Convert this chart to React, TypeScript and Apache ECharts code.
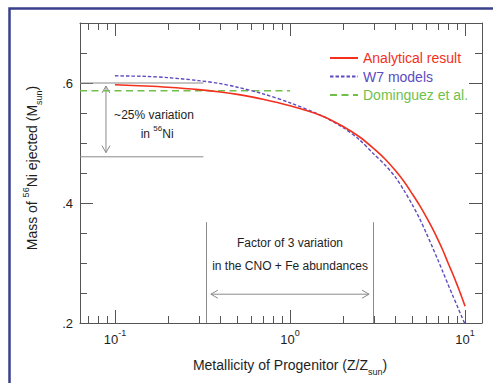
import React, { useEffect, useRef } from 'react';
import * as echarts from 'echarts';

const FONT = '"Liberation Sans", Arial, Helvetica, sans-serif';

// Axis extents
const xMin = 0.0631;
const xMax = 12.5;
const yMin = 0.2;
const yMax = 0.7;

// Analytical result (red, solid)
const analyticalZ = [0.1, 0.15, 0.2, 0.3, 0.4, 0.5, 0.7, 1.0, 1.5, 2.0, 2.5, 3.0, 3.5, 4.0, 4.5, 5.0, 5.5, 6.0, 6.5, 7.0, 7.5, 8.0, 8.5, 9.0, 9.5, 10.0];
const analyticalM = [0.597, 0.595, 0.593, 0.589, 0.585, 0.581, 0.573, 0.562, 0.546, 0.528, 0.510, 0.491, 0.473, 0.454, 0.435, 0.415, 0.396, 0.377, 0.358, 0.339, 0.320, 0.300, 0.282, 0.264, 0.246, 0.228];

// W7 models (purple, short dashes)
const w7Z = [0.1, 0.15, 0.2, 0.3, 0.4, 0.5, 0.7, 1.0, 1.5, 2.0, 2.5, 3.0, 3.5, 4.0, 4.5, 5.0, 5.5, 6.0, 6.5, 7.0, 7.5, 8.0, 8.5, 9.0, 9.5, 10.0];
const w7M = [0.612, 0.611, 0.609, 0.604, 0.599, 0.593, 0.582, 0.567, 0.546, 0.526, 0.505, 0.482, 0.463, 0.443, 0.420, 0.397, 0.374, 0.350, 0.327, 0.305, 0.284, 0.264, 0.246, 0.229, 0.213, 0.198];

// Dominguez et al. (green, long dashes)
const domZ = [0.0631, 1.0];
const domM = [0.587, 0.587];

// Tick values
const xMinorTicks = [0.07, 0.08, 0.09, 0.2, 0.3, 0.4, 0.5, 0.6, 0.7, 0.8, 0.9, 2, 3, 4, 5, 6, 7, 8, 9];
const xMajorTicks = [0.1, 1, 10];
const yLabelValues = [0.2, 0.4, 0.6];

// Reference lines [z0, m0, z1, m1]
const refLines = [
  [0.0631, 0.6, 0.32, 0.6],
  [0.0631, 0.477, 0.32, 0.477],
  [1 / 3, 0.2, 1 / 3, 0.368],
  [3, 0.2, 3, 0.368],
];

// Double arrows [z0, m0, z1, m1]
const arrows = [
  [0.0888, 0.595, 0.0888, 0.484],
  [0.353, 0.248, 2.83, 0.248],
];

// Annotation texts
const notes = [
  { z: 0.167, m: 0.55, text: '{a|~25% variation}' },
  { z: 0.174, m: 0.518, text: '{a|in }{sup|56}{a|Ni}' },
  { z: 1.0, m: 0.337, text: '{a|Factor of 3 variation}' },
  { z: 1.0, m: 0.298, text: '{a|in the CNO + Fe abundances}' },
];

const RED = '#f3301e';
const PURPLE = '#5b4cbf';
const GREEN = '#70bf4b';
const AXIS = '#555';
const GRAY = '#8a8a8a';
const TEXT = '#1e1e1e';

const zip = (a: number[], b: number[]) => a.map((v, i) => [v, b[i]]);

function buildOption() {
  const axisLineStyle = { color: AXIS, width: 1 };
  const tickCommon = { show: true, inside: true, lineStyle: { color: AXIS, width: 1 } };

  const yLabelFmt = (v: number) => {
    for (const t of yLabelValues) if (Math.abs(v - t) < 1e-6) return '.' + Math.round(t * 10);
    return '';
  };
  const xLabelFmt = (v: number) => {
    const e = Math.log10(v);
    const r = Math.round(e);
    if (Math.abs(e - r) > 1e-4) return '';
    return '{b|10}{s|' + r + '}';
  };

  const noteRich = {
    a: { fontSize: 12, fontFamily: FONT, fill: TEXT, color: TEXT, lineHeight: 16, verticalAlign: 'bottom' },
    sup: { fontSize: 8, fontFamily: FONT, fill: TEXT, color: TEXT, lineHeight: 10, verticalAlign: 'top' },
  };

  return {
    animation: false,
    grid: { left: 80, top: 23, right: 11, bottom: 60 },
    legend: {
      orient: 'vertical',
      left: 324,
      top: 46,
      itemWidth: 28,
      itemHeight: 14,
      itemGap: 4.5,
      selectedMode: false,
      itemStyle: { opacity: 0, borderWidth: 0 },
      textStyle: { fontSize: 14, fontFamily: FONT },
      data: [
        { name: 'Analytical result', textStyle: { color: RED } },
        { name: 'W7 models', textStyle: { color: PURPLE } },
        { name: 'Dominguez et al.', textStyle: { color: GREEN } },
      ],
    },
    xAxis: [
      {
        type: 'log',
        logBase: 10,
        min: xMin,
        max: xMax,
        position: 'bottom',
        axisLine: { show: true, onZero: false, lineStyle: axisLineStyle },
        axisTick: { show: false },
        minorTick: { show: false },
        splitLine: { show: false },
        axisLabel: {
          margin: 5,
          formatter: xLabelFmt,
          rich: {
            b: { fontSize: 13, fontFamily: FONT, color: TEXT, lineHeight: 18, verticalAlign: 'bottom' },
            s: { fontSize: 9, fontFamily: FONT, color: TEXT, lineHeight: 11, verticalAlign: 'top' },
          },
        },
      },
      {
        type: 'log',
        logBase: 10,
        min: xMin,
        max: xMax,
        position: 'top',
        axisLine: { show: true, onZero: false, lineStyle: axisLineStyle },
        axisTick: { show: false },
        axisLabel: { show: false },
        splitLine: { show: false },
      },
    ],
    yAxis: [
      {
        type: 'value', min: yMin, max: yMax, interval: 0.05, position: 'left',
        axisLine: { show: true, lineStyle: axisLineStyle },
        axisTick: { ...tickCommon, length: 7 },
        axisLabel: { show: false },
        splitLine: { show: false },
      },
      {
        type: 'value', min: yMin, max: yMax, interval: 0.2, position: 'left',
        axisLine: { show: false },
        axisTick: { ...tickCommon, length: 13 },
        axisLabel: { margin: 7, formatter: yLabelFmt, color: TEXT, fontSize: 13, fontFamily: FONT },
        splitLine: { show: false },
      },
      {
        type: 'value', min: yMin, max: yMax, interval: 0.05, position: 'right',
        axisLine: { show: true, lineStyle: axisLineStyle },
        axisTick: { ...tickCommon, length: 7 },
        axisLabel: { show: false },
        splitLine: { show: false },
      },
      {
        type: 'value', min: yMin, max: yMax, interval: 0.2, position: 'right',
        axisLine: { show: false },
        axisTick: { ...tickCommon, length: 13 },
        axisLabel: { show: false },
        splitLine: { show: false },
      },
    ],
    graphic: [
      {
        type: 'rect',
        silent: true,
        shape: { x: 9.5, y: 8.5, width: 700, height: 700 },
        style: { fill: 'none', stroke: '#3b408c', lineWidth: 2.5 },
      },
      {
        type: 'text',
        x: 290,
        y: 367,
        silent: true,
        style: {
          text: '{a|Metallicity of Progenitor (Z/Z}{sub|sun}{a|)}',
          align: 'center',
          verticalAlign: 'middle',
          rich: {
            a: { fontSize: 14, fontFamily: FONT, fill: TEXT, lineHeight: 18, verticalAlign: 'top' },
            sub: { fontSize: 9, fontFamily: FONT, fill: TEXT, lineHeight: 10, verticalAlign: 'bottom' },
          },
        },
      },
      {
        type: 'text',
        x: 32,
        y: 168,
        rotation: Math.PI / 2,
        silent: true,
        style: {
          text: '{a|Mass of }{sup|56}{a|Ni ejected (M}{sub|sun}{a|)}',
          align: 'center',
          verticalAlign: 'middle',
          rich: {
            a: { fontSize: 14, fontFamily: FONT, fill: TEXT, lineHeight: 22, verticalAlign: 'middle' },
            sup: { fontSize: 9, fontFamily: FONT, fill: TEXT, lineHeight: 12, verticalAlign: 'top' },
            sub: { fontSize: 9, fontFamily: FONT, fill: TEXT, lineHeight: 12, verticalAlign: 'bottom' },
          },
        },
      },
    ],
    series: [
      {
        type: 'custom',
        name: 'xticks',
        xAxisIndex: 0,
        yAxisIndex: 0,
        silent: true,
        data: [
          ...xMinorTicks.map((v) => [v, yMin, 0]),
          ...xMajorTicks.map((v) => [v, yMin, 1]),
        ],
        encode: { x: 0, y: 1 },
        renderItem: (params: any, api: any) => {
          const x = api.value(0);
          const len = api.value(2) ? 13 : 7;
          const b = api.coord([x, yMin]);
          const t = api.coord([x, yMax]);
          const px = Math.round(b[0]) + 0.5;
          const st = { stroke: AXIS, lineWidth: 1 };
          return {
            type: 'group',
            children: [
              { type: 'line', shape: { x1: px, y1: b[1], x2: px, y2: b[1] - len }, style: st },
              { type: 'line', shape: { x1: px, y1: t[1], x2: px, y2: t[1] + len }, style: st },
            ],
          };
        },
      },
      {
        type: 'custom',
        name: 'refLines',
        silent: true,
        data: refLines,
        encode: { x: [0, 2], y: [1, 3] },
        renderItem: (params: any, api: any) => {
          const p0 = api.coord([api.value(0), api.value(1)]);
          const p1 = api.coord([api.value(2), api.value(3)]);
          return {
            type: 'line',
            shape: { x1: p0[0], y1: p0[1], x2: p1[0], y2: p1[1] },
            style: { stroke: GRAY, lineWidth: 1 },
          };
        },
      },
      {
        type: 'custom',
        name: 'arrows',
        silent: true,
        data: arrows,
        encode: { x: [0, 2], y: [1, 3] },
        renderItem: (params: any, api: any) => {
          const p0 = api.coord([api.value(0), api.value(1)]);
          const p1 = api.coord([api.value(2), api.value(3)]);
          const dx = p1[0] - p0[0];
          const dy = p1[1] - p0[1];
          const L = Math.hypot(dx, dy) || 1;
          const ux = dx / L, uy = dy / L;
          const nx = -uy, ny = ux;
          const hl = 7, hw = 4;
          const st = { stroke: GRAY, lineWidth: 1, fill: 'none' };
          const head = (p: number[], s: number) => ({
            type: 'polyline',
            shape: {
              points: [
                [p[0] + s * ux * hl + nx * hw, p[1] + s * uy * hl + ny * hw],
                [p[0], p[1]],
                [p[0] + s * ux * hl - nx * hw, p[1] + s * uy * hl - ny * hw],
              ],
            },
            style: st,
          });
          return {
            type: 'group',
            children: [
              { type: 'line', shape: { x1: p0[0], y1: p0[1], x2: p1[0], y2: p1[1] }, style: st },
              head(p0, 1),
              head(p1, -1),
            ],
          };
        },
      },
      {
        type: 'custom',
        name: 'notes',
        silent: true,
        data: notes.map((n) => [n.z, n.m]),
        encode: { x: 0, y: 1 },
        renderItem: (params: any, api: any) => {
          const n = notes[params.dataIndex];
          const p = api.coord([n.z, n.m]);
          return {
            type: 'text',
            x: p[0],
            y: p[1],
            style: {
              text: n.text,
              align: 'center',
              verticalAlign: 'middle',
              fill: TEXT,
              fontSize: 12,
              fontFamily: FONT,
              rich: noteRich,
            },
          };
        },
      },
      {
        type: 'line',
        name: 'Dominguez et al.',
        data: zip(domZ, domM),
        symbol: 'none',
        showSymbol: false,
        silent: true,
        lineStyle: { color: GREEN, width: 1.5, type: [7, 4.5] },
        itemStyle: { color: GREEN },
        z: 3,
      },
      {
        type: 'line',
        name: 'W7 models',
        data: zip(w7Z, w7M),
        symbol: 'none',
        showSymbol: false,
        smooth: 0.3,
        silent: true,
        lineStyle: { color: PURPLE, width: 1.4, type: [3.5, 2] },
        itemStyle: { color: PURPLE },
        z: 4,
      },
      {
        type: 'line',
        name: 'Analytical result',
        data: zip(analyticalZ, analyticalM),
        symbol: 'none',
        showSymbol: false,
        smooth: 0.3,
        silent: true,
        lineStyle: { color: RED, width: 1.6 },
        itemStyle: { color: RED },
        z: 5,
      },
    ],
  };
}

export default function App() {
  const ref = useRef<HTMLDivElement>(null);
  useEffect(() => {
    document.body.style.margin = '0';
    const chart = echarts.init(ref.current as HTMLDivElement, undefined, { renderer: 'svg' });
    chart.setOption(buildOption() as any);
    return () => chart.dispose();
  }, []);
  return <div ref={ref} style={{ width: 493, height: 383, background: '#fff' }} />;
}
